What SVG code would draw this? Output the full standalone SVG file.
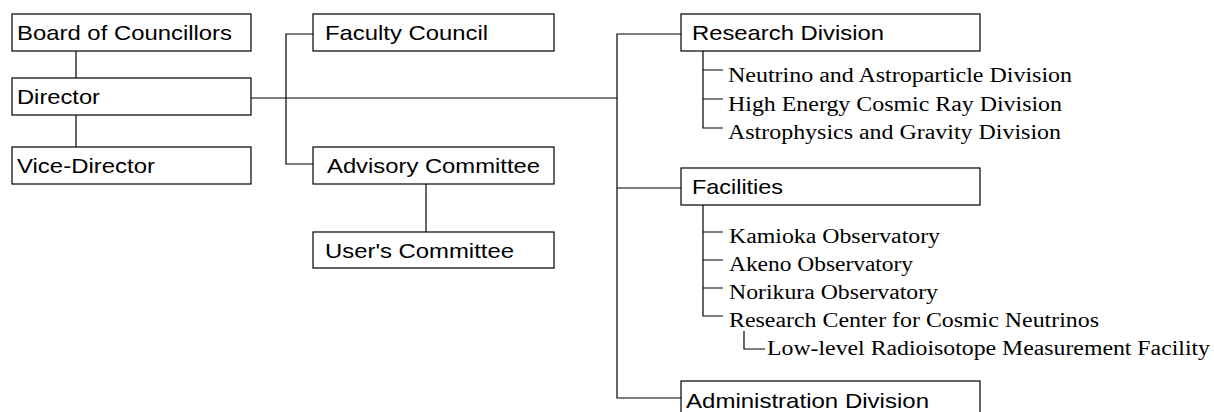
<svg xmlns="http://www.w3.org/2000/svg" width="1214" height="412" viewBox="0 0 1214 412">
<style>
.box{fill:#fff;stroke:#000;stroke-width:1.2}
.bt{font-family:"Liberation Sans",Arial,sans-serif;font-size:21px;fill:#000}
.st{font-family:"Liberation Serif","Times New Roman",serif;font-size:20px;fill:#000}
.ln{fill:none;stroke:#000;stroke-width:1.2}
</style>
<rect width="1214" height="412" fill="#fff"/>
<g id="connectors">
<path class="ln" d="M76 51V78M76 115V147"/>
<path class="ln" d="M251 98H617"/>
<path class="ln" d="M313 34H286V164H313"/>
<path class="ln" d="M426 184V232"/>
<path class="ln" d="M681 34H617V398H681M617 188H681"/>
<path class="ln" d="M703 51V128H723M703 70H723M703 99H723"/>
<path class="ln" d="M703 205V316H723M703 232H723M703 260H723M703 288H723"/>
<path class="ln" d="M744 331V349H765"/>
</g>
<g id="board"><rect class="box" x="12" y="14" width="239" height="37"/><text class="bt" x="17" y="40" textLength="215" lengthAdjust="spacingAndGlyphs">Board of Councillors</text></g>
<g id="director"><rect class="box" x="12" y="78" width="239" height="37"/><text class="bt" x="17" y="104" textLength="83" lengthAdjust="spacingAndGlyphs">Director</text></g>
<g id="vice-director"><rect class="box" x="12" y="147" width="239" height="37"/><text class="bt" x="17" y="173" textLength="138" lengthAdjust="spacingAndGlyphs">Vice-Director</text></g>
<g id="faculty-council"><rect class="box" x="313" y="14" width="241" height="37"/><text class="bt" x="325" y="40" textLength="163" lengthAdjust="spacingAndGlyphs">Faculty Council</text></g>
<g id="advisory-committee"><rect class="box" x="313" y="147" width="241" height="37"/><text class="bt" x="327" y="173" textLength="213" lengthAdjust="spacingAndGlyphs">Advisory Committee</text></g>
<g id="users-committee"><rect class="box" x="313" y="232" width="241" height="36"/><text class="bt" x="325" y="258" textLength="189" lengthAdjust="spacingAndGlyphs">User's Committee</text></g>
<g id="research-division"><rect class="box" x="681" y="14" width="299" height="37"/><text class="bt" x="692" y="40" textLength="192" lengthAdjust="spacingAndGlyphs">Research Division</text>
<text class="st" x="728" y="82" textLength="344" lengthAdjust="spacingAndGlyphs">Neutrino and Astroparticle Division</text>
<text class="st" x="728" y="111" textLength="334" lengthAdjust="spacingAndGlyphs">High Energy Cosmic Ray Division</text>
<text class="st" x="728" y="139" textLength="333" lengthAdjust="spacingAndGlyphs">Astrophysics and Gravity Division</text></g>
<g id="facilities"><rect class="box" x="681" y="168" width="299" height="37"/><text class="bt" x="692" y="194" textLength="91" lengthAdjust="spacingAndGlyphs">Facilities</text>
<text class="st" x="729" y="243" textLength="211" lengthAdjust="spacingAndGlyphs">Kamioka Observatory</text>
<text class="st" x="729" y="271" textLength="184" lengthAdjust="spacingAndGlyphs">Akeno Observatory</text>
<text class="st" x="729" y="299" textLength="209" lengthAdjust="spacingAndGlyphs">Norikura Observatory</text>
<text class="st" x="729" y="327" textLength="370" lengthAdjust="spacingAndGlyphs">Research Center for Cosmic Neutrinos</text>
<text class="st" x="767" y="355" textLength="443" lengthAdjust="spacingAndGlyphs">Low-level Radioisotope Measurement Facility</text></g>
<g id="administration-division"><rect class="box" x="681" y="381" width="299" height="37"/><text class="bt" x="686" y="408" textLength="243" lengthAdjust="spacingAndGlyphs">Administration Division</text></g>
</svg>
